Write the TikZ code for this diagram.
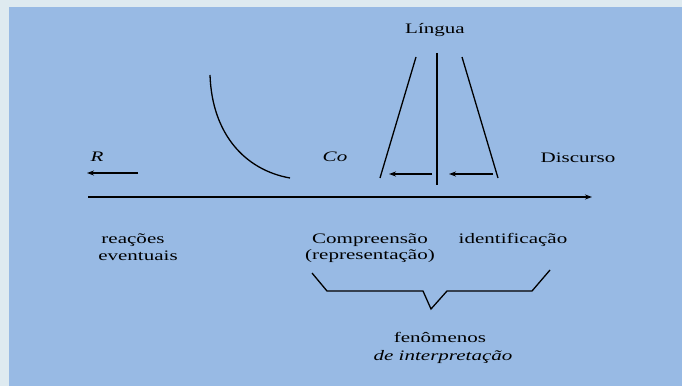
\documentclass[tikz,border=0pt]{standalone}
\usepackage{fontspec}
\setmainfont{Liberation Serif}[
    FakeStretch=1.45,
    UprightFont=*,
    ItalicFont=* Italic,
    ItalicFeatures={FakeStretch=1.45}]
\usepackage{tikz}
\usetikzlibrary{arrows.meta,positioning}
\definecolor{paleedge}{RGB}{222,234,240}
\definecolor{fieldblue}{RGB}{152,186,228}

\begin{document}
\begin{tikzpicture}[
    x=1pt, y=1pt,
    lbl/.style={inner sep=0pt, font=\fontsize{14.5}{15}\selectfont, align=center},
    ilbl/.style={lbl, font=\fontsize{14.5}{15}\selectfont\itshape},
    line/.style={line width=1.3pt},
    arrow/.style={-{Stealth[length=7pt,width=5pt]}, line width=1.3pt}
]
    \fill[paleedge] (0,0) rectangle (682,386);
    \fill[fieldblue] (9,0) rectangle (682,379);
    \useasboundingbox (0,0) rectangle (682,386);

    % eixo principal
    \coordinate (ax0) at (88,189);
    \coordinate (ax1) at (592,189);
    \draw[arrow, line width=1.6pt] (ax0) -- (ax1);

    \node[ilbl] (r) at (97,229) {R};
    \coordinate (r0) at (138,213);
    \coordinate (r1) at (87,213);
    \draw[arrow] (r0) -- (r1);

    \coordinate (c0) at (210,311);
    \coordinate (c1) at (290,208);
    \draw[line] (c0) .. controls (212,252) and (245,216) .. (c1);
    \node[ilbl] (co) at (335,229) {Co};

    % Língua
    \node[lbl] (lingua) at (435,356) {Língua};
    \coordinate (lt) at (416,329);
    \coordinate (lb) at (380,208);
    \coordinate (rt) at (462,329);
    \coordinate (rb) at (498,208);
    \coordinate (mt) at (437,333);
    \coordinate (mb) at (437,201);
    \draw[line] (lt) -- (lb);
    \draw[line] (rt) -- (rb);
    \draw[line width=2.2pt] (mt) -- (mb);
    \coordinate (a0) at (432,212);
    \coordinate (a1) at (389,212);
    \coordinate (b0) at (493,212);
    \coordinate (b1) at (449,212);
    \draw[arrow] (a0) -- (a1);
    \draw[arrow] (b0) -- (b1);

    \node[lbl] (disc) at (578,228) {Discurso};

    % rótulos
    \node[lbl] (reac) at (133,146) {reações};
    \node[lbl] (event) at (138,130) {eventuais};
    \node[lbl] (comp) at (370,146) {Compreensão};
    \node[lbl] (repr) at (370,130) {(representação)};
    \node[lbl] (ident) at (513,146) {identificação};

    \coordinate (k0) at (312,113);
    \coordinate (k1) at (327,95);
    \coordinate (k2) at (423,95);
    \coordinate (k3) at (431,77);
    \coordinate (k4) at (447,95);
    \coordinate (k5) at (532,95);
    \coordinate (k6) at (550,116);
    \draw[line] (k0) -- (k1) -- (k2) -- (k3) -- (k4) -- (k5) -- (k6);

    \node[lbl] (fen) at (440,49) {fenômenos};
    \node[ilbl] (interp) at (443,29) {de interpretação};
\end{tikzpicture}
\end{document}
